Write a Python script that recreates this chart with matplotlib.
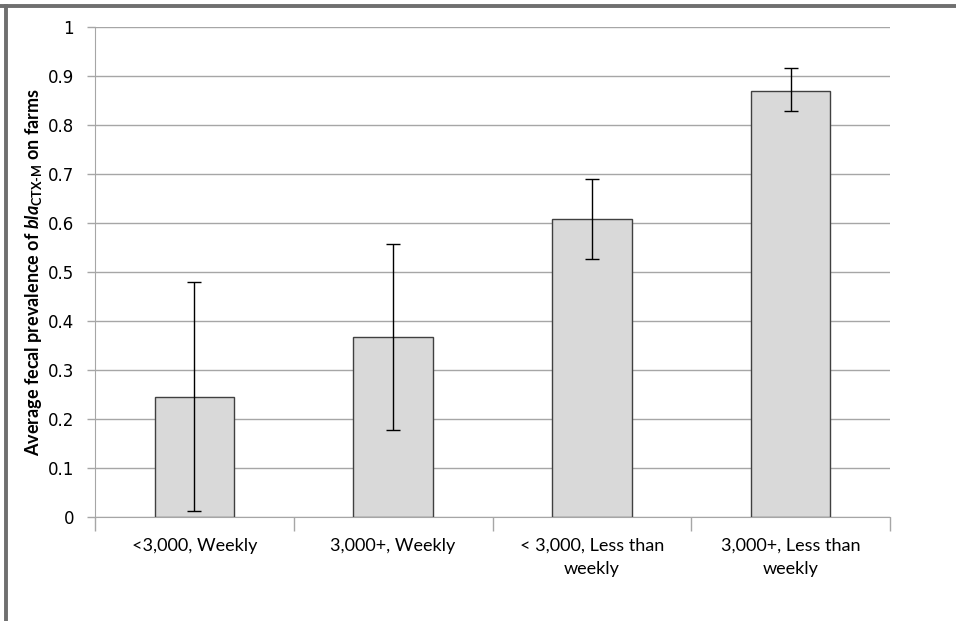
import matplotlib
matplotlib.use("Agg")
import matplotlib.pyplot as plt
from matplotlib.lines import Line2D
import numpy as np

# === DATA ===
categories = ["<3,000, Weekly", "3,000+, Weekly", "< 3,000, Less than\nweekly", "3,000+, Less than\nweekly"]
prevalence = [0.245, 0.367, 0.608, 0.870]
err_low = [0.233, 0.189, 0.082, 0.042]
err_high = [0.235, 0.191, 0.082, 0.046]
y_ticks = [0, 0.1, 0.2, 0.3, 0.4, 0.5, 0.6, 0.7, 0.8, 0.9, 1]

plt.rcParams['mathtext.fontset'] = 'custom'
plt.rcParams['mathtext.it'] = 'Lato:italic:bold'
plt.rcParams['mathtext.rm'] = 'Lato:bold'

fig = plt.figure(figsize=(9.56, 6.21), dpi=100)
fig.patch.set_facecolor('white')
ax = fig.add_axes([95 / 956, 104 / 621, 795 / 956, 490 / 621])

x = np.arange(len(categories))
ax.bar(x, prevalence, width=0.4, color='#d9d9d9', edgecolor='#404040', linewidth=1.0, zorder=3)
ax.errorbar(x, prevalence, yerr=[err_low, err_high], fmt='none', ecolor='black',
            elinewidth=1.0, capsize=5, capthick=1.0, zorder=4)

ax.set_xlim(-0.5, len(categories) - 0.5)
ax.set_ylim(0, 1)
ax.set_yticks(y_ticks)
ax.set_yticklabels([f"{t:g}" for t in y_ticks], fontsize=12, fontfamily='DejaVu Sans')
ax.yaxis.grid(True, color='#a6a6a6', linewidth=1.0, zorder=0)
ax.set_axisbelow(True)

# category labels centred, ticks at boundaries
ax.set_xticks(x)
ax.set_xticklabels(categories, fontsize=13, fontfamily='Lato', linespacing=1.55)
ax.tick_params(axis='x', which='major', length=0, pad=15)
ax.set_xticks(np.arange(-0.5, len(categories), 1.0), minor=True)
ax.tick_params(axis='x', which='minor', length=10, color='#a6a6a6', width=1.0)
ax.tick_params(axis='y', length=6, color='#a6a6a6', width=1.0, pad=9)

for side in ['top', 'right']:
    ax.spines[side].set_visible(False)
ax.spines['left'].set_color('#a6a6a6')
ax.spines['bottom'].set_color('#a6a6a6')

ax.set_ylabel(r"Average fecal prevalence of $\mathit{bla}_{\mathrm{CTX\text{-}M}}$ on farms",
              fontsize=13, fontweight='bold', fontfamily='Lato', labelpad=3)

# outer frame (top and left edges)
fig.add_artist(Line2D([0, 1], [1 - 5.5 / 621] * 2, color='#6f6f6f', linewidth=2.8, transform=fig.transFigure))
fig.add_artist(Line2D([6 / 956] * 2, [0, 1 - 5.5 / 621], color='#6f6f6f', linewidth=2.8, transform=fig.transFigure))

fig.savefig("out.png", dpi=100)
